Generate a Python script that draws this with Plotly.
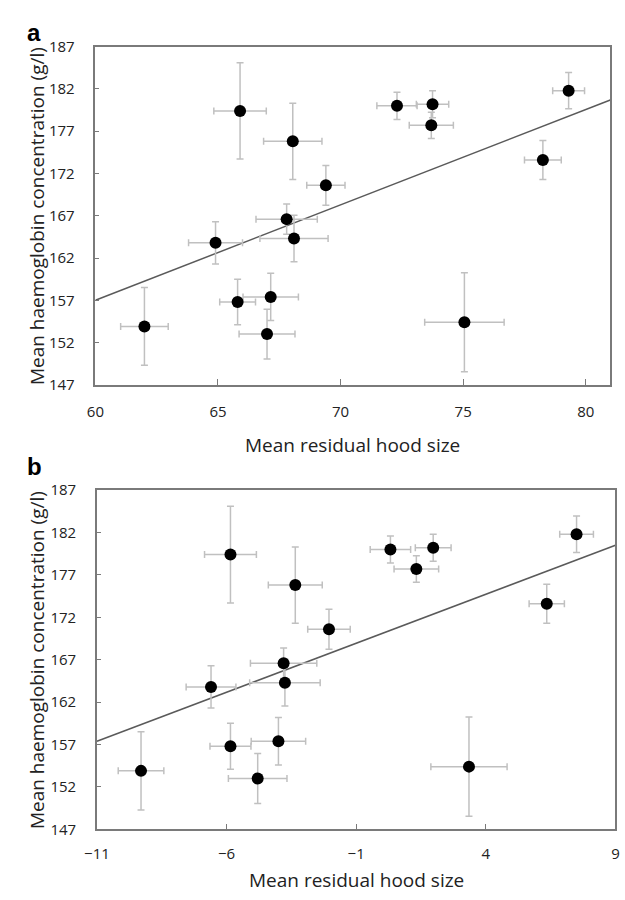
import plotly.graph_objects as go

# Shared haemoglobin data (y) and its error
hb_mean = [153.9, 163.8, 156.8, 179.4, 153.0, 157.4, 166.6, 175.8, 164.3, 170.6,
           180.0, 180.2, 177.7, 154.4, 173.6, 181.8]
hb_err = [4.6, 2.5, 2.7, 5.7, 2.95, 2.8, 1.8, 4.5, 2.75, 2.35,
          1.6, 1.6, 1.55, 5.85, 2.3, 2.15]

# Panel a: mean residual hood size
hood_a = [62.0, 64.9, 65.8, 65.9, 67.0, 67.15, 67.8, 68.05, 68.1, 69.4,
          72.3, 73.75, 73.7, 75.05, 78.25, 79.3]
hood_a_err = [0.97, 1.1, 0.73, 1.07, 1.14, 1.13, 1.25, 1.19, 1.39, 0.78,
              0.82, 0.66, 0.9, 1.62, 0.75, 0.65]

# Panel b: mean residual hood size
hood_b = [-9.3, -6.6, -5.85, -5.85, -4.8, -4.0, -3.8, -3.35, -3.75, -2.05,
          0.32, 1.97, 1.32, 3.35, 6.35, 7.5]
hood_b_err = [0.88, 0.96, 0.79, 1.0, 1.13, 1.05, 1.28, 1.04, 1.36, 0.82,
              0.78, 0.69, 0.86, 1.47, 0.68, 0.65]

# Trend lines (value at left and right edges)
trend_a_x = [60, 81]
trend_a_y = [157.0, 180.7]
trend_b_x = [-11, 9]
trend_b_y = [157.4, 180.5]

y_ticks = [147, 152, 157, 162, 167, 172, 177, 182, 187]
xa_ticks = [60, 65, 70, 75, 80]
xb_ticks = [-11, -6, -1, 4, 9]

W, H = 625, 900
dom_a_x = [84.7 / W, 614 / W]
dom_a_y = [1 - 382.3 / H, 1 - 36.5 / H]
dom_b_x = [86.3 / W, 619.3 / W]
dom_b_y = [1 - 837 / H, 1 - 490 / H]

FONT = "Open Sans"
err_col = "#c0c0c0"
axis_col = "#7a7a7a"

fig = go.Figure()

def add_panel(xs, xerr, tx, ty, xref, yref):
    fig.add_trace(go.Scatter(
        x=tx, y=ty, mode="lines", line=dict(color="#5a5a5a", width=1.5),
        xaxis=xref, yaxis=yref, showlegend=False, hoverinfo="skip"))
    fig.add_trace(go.Scatter(
        x=xs, y=hb_mean, mode="markers",
        marker=dict(color="black", size=12),
        error_x=dict(type="data", array=xerr, color=err_col, thickness=1.5, width=3.5),
        error_y=dict(type="data", array=hb_err, color=err_col, thickness=1.5, width=3.5),
        xaxis=xref, yaxis=yref, showlegend=False))

add_panel(hood_a, hood_a_err, trend_a_x, trend_a_y, "x", "y")
add_panel(hood_b, hood_b_err, trend_b_x, trend_b_y, "x2", "y2")

axis_common = dict(
    showgrid=False, zeroline=False, showline=True, linecolor=axis_col, linewidth=1.5,
    mirror=True, tickfont=dict(family=FONT, size=15, color="#222222"),
    ticks="inside", tickcolor=axis_col, tickwidth=1.2,
)

fig.update_layout(
    width=W, height=H, margin=dict(l=0, r=0, t=0, b=0),
    paper_bgcolor="white", plot_bgcolor="white",
    xaxis=dict(domain=dom_a_x, range=[60, 81], tickvals=xa_ticks, ticklen=6,
               ticklabelstandoff=12, anchor="y", **axis_common),
    yaxis=dict(domain=dom_a_y, range=[147, 187], tickvals=y_ticks, ticklen=4,
               ticklabelstandoff=16, anchor="x", **axis_common),
    xaxis2=dict(domain=dom_b_x, range=[-11, 9], tickvals=xb_ticks, ticklen=6,
                ticklabelstandoff=10, anchor="y2", **axis_common),
    yaxis2=dict(domain=dom_b_y, range=[147, 187], tickvals=y_ticks, ticklen=4,
                ticklabelstandoff=16, anchor="x2", **axis_common),
)

title_font = dict(family=FONT, size=19, color="#222222")
label_font = dict(family="Liberation Sans", size=24, color="black")
annotations = [
    dict(text="<b>a</b>", x=22 / W, y=1 - 22 / H, font=label_font),
    dict(text="<b>b</b>", x=22 / W, y=1 - 466 / H, font=label_font),
    dict(text="Mean residual hood size", x=(dom_a_x[0] + dom_a_x[1]) / 2, y=1 - 444 / H,
         font=title_font),
    dict(text="Mean residual hood size", x=(dom_b_x[0] + dom_b_x[1]) / 2, y=1 - 889 / H,
         font=title_font),
    dict(text="Mean haemoglobin concentration (g/l)", x=24 / W, y=(dom_a_y[0] + dom_a_y[1]) / 2,
         textangle=-90, font=title_font),
    dict(text="Mean haemoglobin concentration (g/l)", x=24 / W, y=(dom_b_y[0] + dom_b_y[1]) / 2,
         textangle=-90, font=title_font),
]
for a in annotations:
    fig.add_annotation(xref="paper", yref="paper", showarrow=False,
                       xanchor="center", yanchor="middle", **a)

fig.write_html("out.html", config={"displayModeBar": False},
               post_script="document.body.style.margin='0px';")
